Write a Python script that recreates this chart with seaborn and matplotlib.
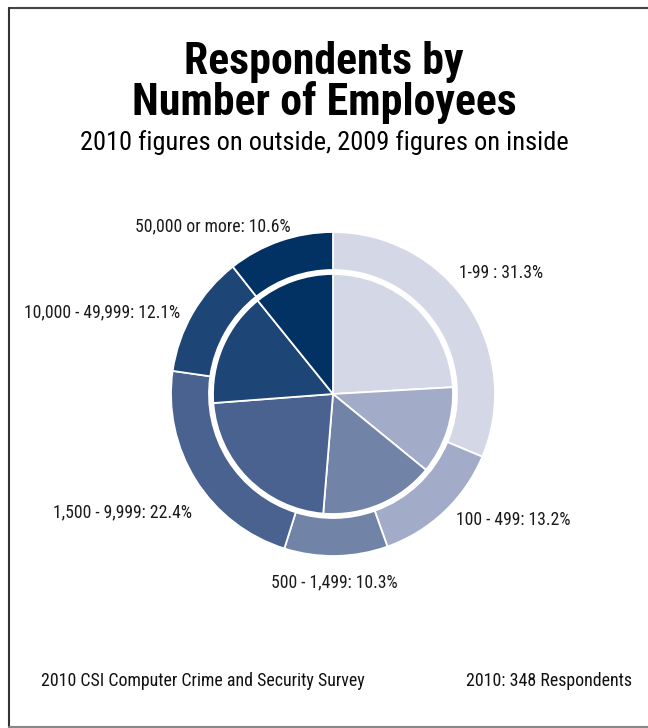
import matplotlib
matplotlib.use("Agg")
import matplotlib.pyplot as plt
from matplotlib.lines import Line2D
import seaborn as sns

# Survey data: company size bands, 2010 (outer ring) and 2009 (inner pie)
categories = ["1-99", "100 - 499", "500 - 1,499", "1,500 - 9,999",
              "10,000 - 49,999", "50,000 or more"]
share_2010 = [31.3, 13.2, 10.3, 22.4, 12.1, 10.6]
share_2009 = [24.1, 11.8, 15.4, 22.5, 15.4, 10.8]
label_text = ["1-99 : 31.3%", "100 - 499: 13.2%", "500 - 1,499: 10.3%",
              "1,500 - 9,999: 22.4%", "10,000 - 49,999: 12.1%",
              "50,000 or more: 10.6%"]

colors = ["#d4d8e6", "#a2abc7", "#7283a8", "#4a628f", "#1d4676", "#023263"]

sns.set_theme(style="white")
plt.rcParams["font.family"] = ["Roboto Condensed", "Liberation Sans Narrow",
                               "DejaVu Sans Condensed", "DejaVu Sans"]
plt.rcParams["font.stretch"] = "condensed"

W, H = 648, 728
fig = plt.figure(figsize=(W / 100, H / 100), dpi=100)
ax = fig.add_axes([0, 0, 1, 1])

# pixel geometry of the chart
cx, cy = 333, 394
R = 162.0

palette = sns.color_palette(colors)

ax.pie(share_2010, radius=1.0, colors=palette, startangle=90, counterclock=False,
       wedgeprops=dict(width=(162 - 124) / R, edgecolor="white", linewidth=1.3))
ax.pie(share_2009, radius=120 / R, colors=palette, startangle=90, counterclock=False,
       wedgeprops=dict(edgecolor="white", linewidth=1.3))

ax.set_xlim(-cx / R, (W - cx) / R)
ax.set_ylim(-(H - cy) / R, cy / R)
ax.set_aspect("equal")
ax.axis("off")


def px(x, y):
    return (x - cx) / R, (cy - y) / R


# label anchors in pixels: (x, y, horizontal alignment)
label_pos = [(459, 273, "left"), (456, 520, "left"), (271, 582, "left"),
             (192, 512, "right"), (180, 312, "right"), (291, 226, "right")]
for txt, (x, y, ha) in zip(label_text, label_pos):
    ax.text(*px(x, y), txt, ha=ha, va="center", fontsize=12.7, color="#1a1a1a")

fig.text(324 / W, 1 - 62 / H, "Respondents by", ha="center", va="center",
         fontsize=31.6, fontweight="bold", color="black")
fig.text(324 / W, 1 - 103 / H, "Number of Employees", ha="center", va="center",
         fontsize=31.6, fontweight="bold", color="black")
fig.text(324 / W, 1 - 143 / H, "2010 figures on outside, 2009 figures on inside",
         ha="center", va="center", fontsize=19, color="black")

fig.text(41 / W, 1 - 681 / H, "2010 CSI Computer Crime and Security Survey",
         ha="left", va="center", fontsize=12.9, color="#111111")
fig.text(632 / W, 1 - 681 / H, "2010: 348 Respondents",
         ha="right", va="center", fontsize=12.9, color="#111111")

# frame on left, top and bottom
fig.add_artist(Line2D([8.5 / W, 1], [1 - 8 / H, 1 - 8 / H], color="#444444", lw=1.5))
fig.add_artist(Line2D([8.5 / W, 8.5 / W], [1 - 8 / H, 1 - 726.5 / H], color="#333333", lw=1.5))
fig.add_artist(Line2D([8.5 / W, 1], [1 - 726.5 / H, 1 - 726.5 / H], color="#888888", lw=1.5))

fig.savefig("out.png", dpi=100, facecolor="white")
